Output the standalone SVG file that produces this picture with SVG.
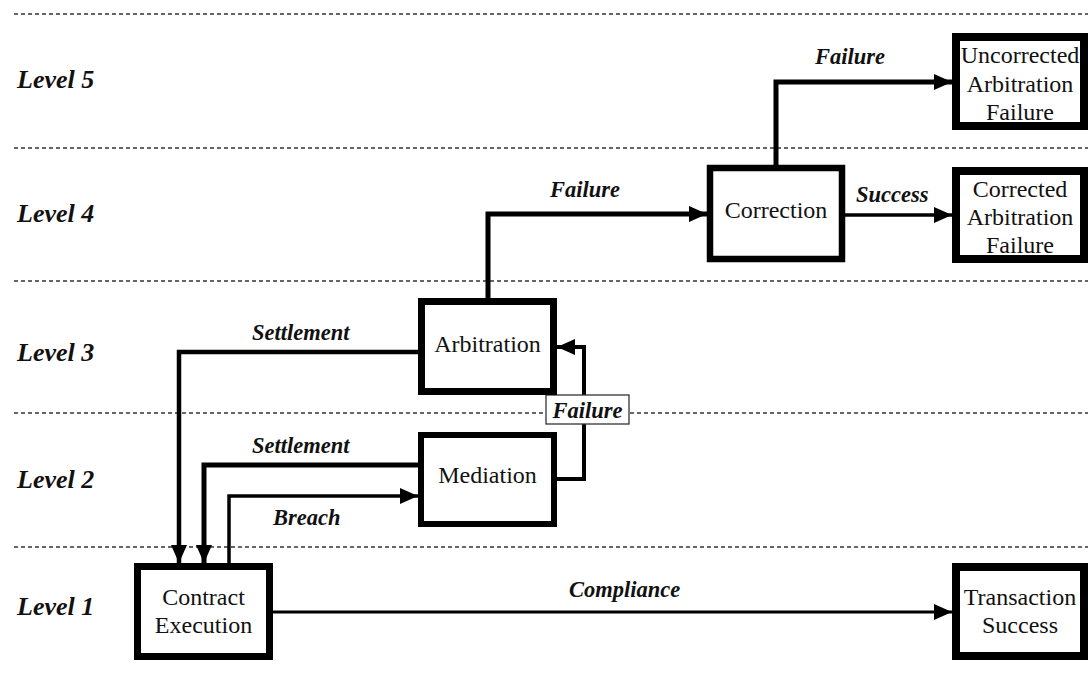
<svg xmlns="http://www.w3.org/2000/svg" width="1088" height="675" viewBox="0 0 1088 675" font-family="'Liberation Serif', 'DejaVu Serif', serif">
  <defs>
    <style>
      .lvl { fill: none; stroke: #333; stroke-width: 1.6; stroke-dasharray: 4 3; }
      .lvltxt { font-family: 'Liberation Serif', 'DejaVu Serif', serif; font-style: italic; font-weight: bold; font-size: 26px; fill: #111; }
      .box { fill: #fff; stroke: #000; }
      .ntxt { font-family: 'Liberation Serif', 'DejaVu Serif', serif; font-size: 24px; fill: #111; text-anchor: middle; }
      .conn { fill: none; stroke: #000; stroke-linejoin: miter; }
      .ctxt { font-family: 'Liberation Serif', 'DejaVu Serif', serif; font-style: italic; font-weight: bold; font-size: 22.5px; fill: #111; }
    </style>
    <marker id="arr" viewBox="0 0 18 16" refX="18" refY="8" markerWidth="18" markerHeight="16" markerUnits="userSpaceOnUse" orient="auto">
      <path d="M0,0 L18,8 L0,16 z" fill="#000"/>
    </marker>
  </defs>
  <rect width="1088" height="675" fill="#fff"/>

  <g id="levels">
    <line class="lvl" x1="14" y1="14" x2="1088" y2="14"/>
    <line class="lvl" x1="14" y1="148" x2="1088" y2="148"/>
    <line class="lvl" x1="14" y1="281" x2="1088" y2="281"/>
    <line class="lvl" x1="14" y1="413" x2="1088" y2="413"/>
    <line class="lvl" x1="14" y1="547" x2="1088" y2="547"/>
    <text class="lvltxt" x="17" y="88">Level 5</text>
    <text class="lvltxt" x="17" y="222">Level 4</text>
    <text class="lvltxt" x="17" y="361">Level 3</text>
    <text class="lvltxt" x="17" y="488">Level 2</text>
    <text class="lvltxt" x="17" y="615">Level 1</text>
  </g>

  <g id="connectors">
    <path class="conn" stroke-width="5" d="M488,298 V214 H707" marker-end="url(#arr)"/>
    <path class="conn" stroke-width="5" d="M776,165 V82 H952" marker-end="url(#arr)"/>
    <path class="conn" stroke-width="3.5" d="M845,215 H952" marker-end="url(#arr)"/>
    <path class="conn" stroke-width="4.5" d="M418,352 H179 V563" marker-end="url(#arr)"/>
    <path class="conn" stroke-width="5" d="M418,465 H204 V563" marker-end="url(#arr)"/>
    <path class="conn" stroke-width="3.5" d="M229,563 V496 H418" marker-end="url(#arr)"/>
    <path class="conn" stroke-width="4" d="M557,479 H584 V347 H557" marker-end="url(#arr)"/>
    <path class="conn" stroke-width="3" d="M273,612 H952" marker-end="url(#arr)"/>
    <text class="ctxt" x="550" y="197">Failure</text>
    <text class="ctxt" x="815" y="64">Failure</text>
    <text class="ctxt" x="856" y="202">Success</text>
    <text class="ctxt" x="252" y="340">Settlement</text>
    <text class="ctxt" x="252" y="453">Settlement</text>
    <text class="ctxt" x="273" y="525">Breach</text>
    <text class="ctxt" x="569" y="597">Compliance</text>
    <g id="failure-label">
      <rect x="546" y="395" width="83" height="29" fill="#fff" stroke="#333" stroke-width="1.3"/>
      <text class="ctxt" x="587.5" y="418" text-anchor="middle">Failure</text>
    </g>
  </g>

  <g id="uncorrected">
    <rect class="box" x="956" y="37" width="128" height="89" stroke-width="8"/>
    <text class="ntxt" x="1020" y="63">Uncorrected</text>
    <text class="ntxt" x="1020" y="92">Arbitration</text>
    <text class="ntxt" x="1020" y="120">Failure</text>
  </g>
  <g id="corrected">
    <rect class="box" x="956" y="171" width="128" height="88" stroke-width="8"/>
    <text class="ntxt" x="1020" y="197">Corrected</text>
    <text class="ntxt" x="1020" y="225">Arbitration</text>
    <text class="ntxt" x="1020" y="253">Failure</text>
  </g>
  <g id="correction">
    <rect class="box" x="710" y="168" width="132" height="91" stroke-width="6.5"/>
    <text class="ntxt" x="776" y="218">Correction</text>
  </g>
  <g id="arbitration">
    <rect class="box" x="421.5" y="301.5" width="132" height="90" stroke-width="7"/>
    <text class="ntxt" x="487.5" y="352">Arbitration</text>
  </g>
  <g id="mediation">
    <rect class="box" x="421" y="435" width="133" height="89" stroke-width="6"/>
    <text class="ntxt" x="487.5" y="483">Mediation</text>
  </g>
  <g id="contract">
    <rect class="box" x="137.5" y="566.5" width="132" height="90" stroke-width="7"/>
    <text class="ntxt" x="203.5" y="605">Contract</text>
    <text class="ntxt" x="203.5" y="633">Execution</text>
  </g>
  <g id="transaction">
    <rect class="box" x="956" y="567" width="128" height="89" stroke-width="8"/>
    <text class="ntxt" x="1020" y="605">Transaction</text>
    <text class="ntxt" x="1020" y="633">Success</text>
  </g>
</svg>
